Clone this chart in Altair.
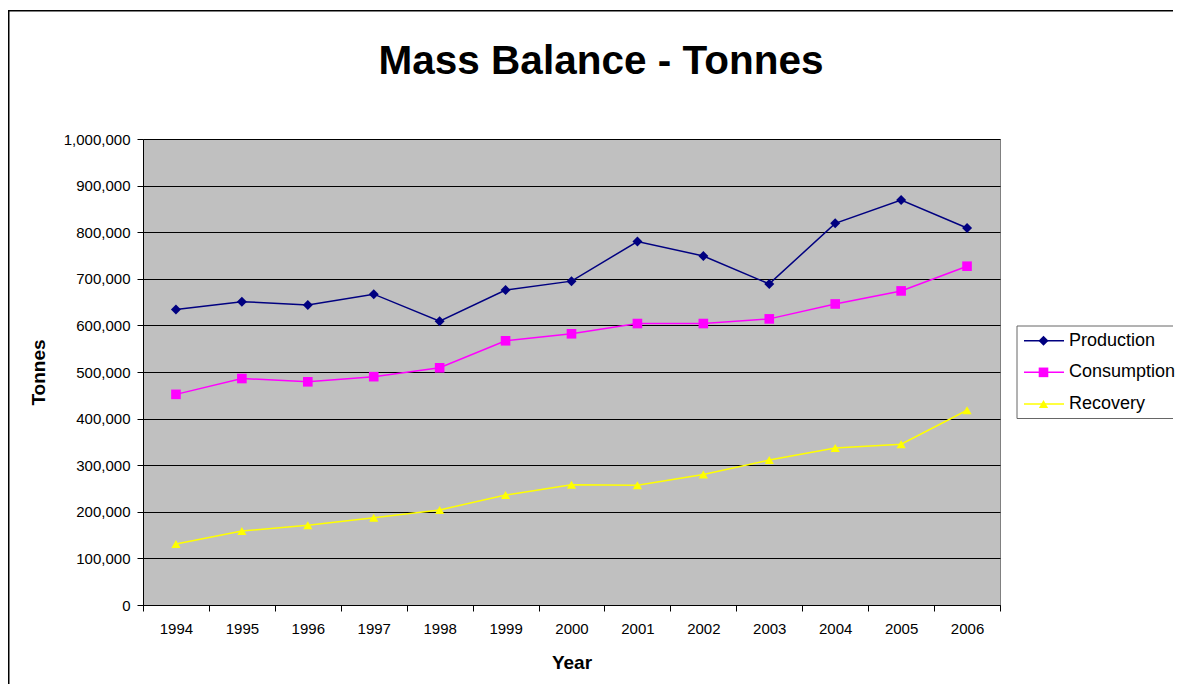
import altair as alt
import pandas as pd

title_text = "Mass Balance - Tonnes"
years = [str(y) for y in range(1994, 2007)]
production = [634000, 651000, 644000, 667000, 609000, 676000, 695000, 780000, 749000, 689000, 819000, 869000, 809000]
consumption = [452000, 486000, 479000, 490000, 509000, 567000, 582000, 604000, 604000, 614000, 646000, 674000, 727000]
recovery = [131000, 159000, 171000, 187000, 204000, 236000, 258000, 257000, 280000, 311000, 337000, 345000, 418000]
series_names = ["Production", "Consumption", "Recovery"]
series_colors = ["#000080", "#FF00FF", "#FFFF00"]
series_shapes = ["diamond", "square", "triangle-up"]
series_sizes = [100, 85, 130]
y_ticks = list(range(0, 1000001, 100000))

rows = []
for name, vals in zip(series_names, [production, consumption, recovery]):
    for yr, v in zip(years, vals):
        rows.append({"Year": yr, "Tonnes": v, "Series": name})
df = pd.DataFrame(rows)
legend_df = pd.DataFrame({"Series": series_names})
one = pd.DataFrame({"title": [title_text]})

FONT = "Liberation Sans"

color = alt.Color("Series:N", scale=alt.Scale(domain=series_names, range=series_colors), legend=None)
shape = alt.Shape("Series:N", scale=alt.Scale(domain=series_names, range=series_shapes), legend=None)
size = alt.Size("Series:N", scale=alt.Scale(domain=series_names, range=series_sizes), legend=None)

x = alt.X(
    "Year:O",
    sort=years,
    scale=alt.Scale(type="band", paddingInner=0, paddingOuter=0),
    axis=alt.Axis(title="Year", labelAngle=0, tickBand="extent", grid=False,
                  tickSize=6, labelPadding=10, titlePadding=17),
)
y = alt.Y(
    "Tonnes:Q",
    scale=alt.Scale(domain=[0, 1000000], nice=False),
    axis=alt.Axis(title="Tonnes", format=",d", values=y_ticks, grid=True,
                  gridColor="#000000", gridWidth=1, tickSize=6, labelPadding=7,
                  titlePadding=15),
)

base = alt.Chart(df)
lines = base.mark_line(strokeWidth=1.5).encode(x=x, y=y, color=color)
points = base.mark_point(filled=True, opacity=1).encode(x=x, y=y, color=color, shape=shape, size=size)
main = alt.layer(lines, points)

RIGHT = 1030  # right edge of the drawing (the frame runs off the page here)

ly = alt.Y("Series:N", scale=alt.Scale(type="point", domain=series_names, range=[201.7, 265], padding=0), axis=None)
lbox = alt.Chart(one).mark_rect(fill="#FFFFFF", strokeWidth=0).encode(
    x=alt.value(874), x2=alt.value(RIGHT), y=alt.value(187), y2=alt.value(279.5))
lb_left = alt.Chart(one).mark_rule(color="#666666", strokeWidth=1).encode(
    x=alt.value(874), y=alt.value(187), y2=alt.value(279.5))
lb_top = alt.Chart(one).mark_rule(color="#666666", strokeWidth=1).encode(
    x=alt.value(874), x2=alt.value(RIGHT), y=alt.value(187))
lb_bot = alt.Chart(one).mark_rule(color="#666666", strokeWidth=1).encode(
    x=alt.value(874), x2=alt.value(RIGHT), y=alt.value(279.5))
lrule = alt.Chart(legend_df).mark_rule(strokeWidth=1.5).encode(
    x=alt.value(881), x2=alt.value(921), y=ly, color=color)
lpts = alt.Chart(legend_df).mark_point(filled=True, opacity=1).encode(
    x=alt.value(900.5), y=ly, color=color, shape=shape, size=size)
ltext = alt.Chart(legend_df).mark_text(align="left", baseline="middle", fontSize=18, font=FONT, color="#000000").encode(
    x=alt.value(926), y=ly, text="Series:N")
legend = alt.layer(lbox, lb_left, lb_top, lb_bot, lrule, lpts, ltext)

b_left = alt.Chart(one).mark_rule(color="#000000", strokeWidth=1.5).encode(
    x=alt.value(-134.25), y=alt.value(-128.25), y2=alt.value(545))
b_top = alt.Chart(one).mark_rule(color="#000000", strokeWidth=1.5).encode(
    x=alt.value(-135), x2=alt.value(RIGHT), y=alt.value(-128.25))
title = alt.Chart(one).mark_text(align="center", baseline="alphabetic", fontSize=40.5, fontWeight="bold",
                                 font=FONT, color="#000000").encode(
    x=alt.value(458), y=alt.value(-65), text="title:N")

chart = alt.layer(b_left, b_top, title, main, legend).resolve_scale(y="independent").properties(
    width=857, height=466,
    autosize=alt.AutoSizeParams(type="none"),
    padding={"left": 135, "top": 131, "right": 175, "bottom": 79},
    background="#FFFFFF",
).configure_view(
    fill="#C0C0C0", stroke="#808080", strokeWidth=1
).configure_axis(
    domainColor="#000000", domainWidth=1, tickColor="#000000", tickWidth=1,
    labelColor="#000000", labelFont=FONT, labelFontSize=15,
    titleColor="#000000", titleFont=FONT, titleFontSize=19, titleFontWeight="bold",
)

chart.save("out.html", embed_options={"renderer": "svg", "actions": False})
